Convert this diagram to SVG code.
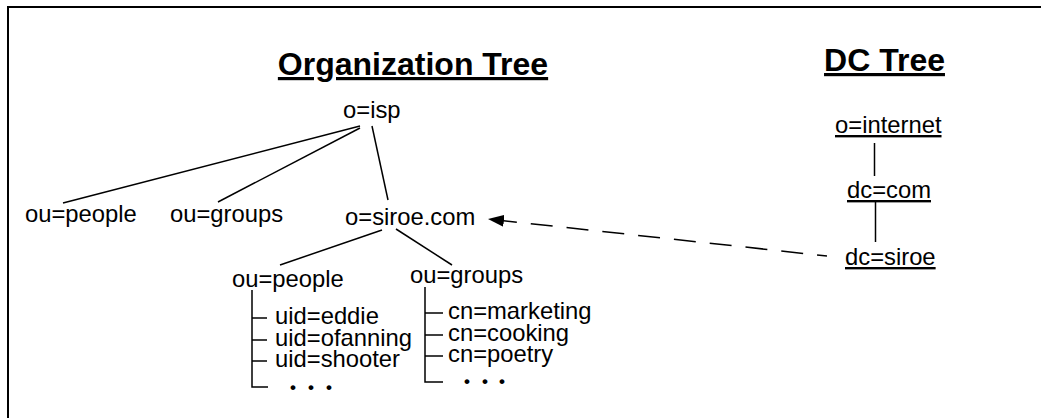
<svg xmlns="http://www.w3.org/2000/svg" width="1041" height="418" viewBox="0 0 1041 418">
<style>
text{font-family:"Liberation Sans",Arial,sans-serif;fill:#000}
.t{font-size:32px;font-weight:bold;text-anchor:middle;text-decoration:underline}
.n{font-size:23.8px}
.u{text-decoration:underline}
.d{font-size:17px;font-weight:bold}
.c line,.c polyline{stroke:#000;stroke-width:1.5;fill:none}
</style>
<defs>
<marker id="ah" markerUnits="userSpaceOnUse" markerWidth="16" markerHeight="12" refX="16" refY="6" orient="auto"><path d="M0,0 L16,6 L0,12 z" fill="#000"/></marker>
</defs>
<rect x="0" y="0" width="1041" height="418" fill="#fff"/>
<rect x="8" y="7" width="1100" height="500" fill="none" stroke="#000" stroke-width="2"/>
<text class="t" x="413" y="75">Organization Tree</text>
<text class="t" x="884.5" y="71">DC Tree</text>
<g class="c" id="connectors">
<line x1="360" y1="126" x2="63" y2="203"/>
<line x1="360" y1="128" x2="218" y2="202"/>
<line x1="372" y1="126" x2="388" y2="200"/>
<line x1="382" y1="230" x2="280" y2="265"/>
<line x1="396" y1="229" x2="452" y2="265"/>
<polyline points="252,290 252,387 268,387"/>
<line x1="252" y1="318" x2="267" y2="318"/>
<line x1="252" y1="340" x2="267" y2="340"/>
<line x1="252" y1="361" x2="267" y2="361"/>
<polyline points="425,287 425,382 443,382"/>
<line x1="425" y1="313" x2="443" y2="313"/>
<line x1="425" y1="335" x2="443" y2="335"/>
<line x1="425" y1="356" x2="443" y2="356"/>
<line x1="874.5" y1="143" x2="874.5" y2="176"/>
<line x1="875.5" y1="200" x2="875.5" y2="242"/>
<line x1="827" y1="256" x2="488" y2="219" stroke-dasharray="22 14" stroke-dashoffset="12" marker-end="url(#ah)"/>
</g>
<g id="o-isp"><text class="n" x="343" y="118">o=isp</text></g>
<g id="ou-people-1"><text class="n" x="25" y="222">ou=people</text></g>
<g id="ou-groups-1"><text class="n" x="170" y="222">ou=groups</text></g>
<g id="o-siroe"><text class="n" x="345" y="225">o=siroe.com</text></g>
<g id="ou-people-2"><text class="n" x="232" y="287">ou=people</text></g>
<g id="ou-groups-2"><text class="n" x="410" y="283">ou=groups</text></g>
<g id="uids">
<text class="n" x="275" y="324">uid=eddie</text>
<text class="n" x="275" y="346">uid=ofanning</text>
<text class="n" x="275" y="367">uid=shooter</text>
<text class="d" x="290 308 326" y="393">•••</text>
</g>
<g id="cns">
<text class="n" x="448" y="319">cn=marketing</text>
<text class="n" x="448" y="341">cn=cooking</text>
<text class="n" x="448" y="362">cn=poetry</text>
<text class="d" x="464 482 499" y="387">•••</text>
</g>
<g id="o-internet"><text class="n u" x="835" y="133">o=internet</text></g>
<g id="dc-com"><text class="n u" x="847" y="198">dc=com</text></g>
<g id="dc-siroe"><text class="n u" x="845" y="265">dc=siroe</text></g>
</svg>
